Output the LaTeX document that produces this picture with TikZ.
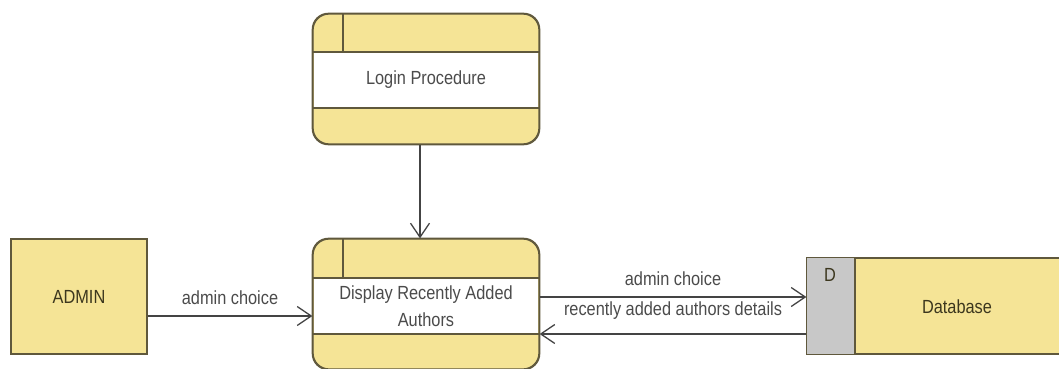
\documentclass[tikz,border=0pt]{standalone}
\usepackage{fontspec}
\setmainfont[FakeStretch=0.86]{Liberation Sans}
\usetikzlibrary{arrows.meta}
\definecolor{dfdyellow}{RGB}{245,228,150}
\definecolor{dfdborder}{RGB}{95,88,60}
\definecolor{dfdgray}{RGB}{200,200,200}
\definecolor{dfdtext}{RGB}{75,75,75}
\definecolor{dfdlabel}{RGB}{60,55,30}
\begin{document}
\begin{tikzpicture}[x=1pt,y=-1pt,
  every node/.style={font=\fontsize{19}{27}\selectfont},
  proc/.style={draw=dfdborder, line width=1.3pt, fill=dfdyellow, rounded corners=16pt,
    minimum width=226pt, minimum height=130pt, inner sep=0pt, text=dfdtext, align=center},
  entity/.style={draw=dfdborder, line width=1.3pt, fill=dfdyellow, minimum width=136pt,
    minimum height=115pt, inner sep=0pt, text=dfdlabel},
  storebox/.style={draw=dfdborder, line width=1.3pt, fill=dfdyellow, minimum width=260pt,
    minimum height=96pt, inner sep=0pt},
  band/.style={draw=dfdborder, line width=1.3pt},
  flow/.style={draw=dfdtext!90!black, line width=1.3pt, -{Straight Barb[length=14pt,width=19pt,line width=1.3pt]}},
  flowlabel/.style={text=dfdtext, inner sep=0pt}]
\useasboundingbox (0,0) rectangle (1059,369);
\clip (0,0) rectangle (1059,369);

% Login Procedure process
\node[proc] (login) at (426,79) {};
\fill[white] (313.7,52) rectangle (538.3,108);
\draw[band] (313,52) -- (539,52) (313,108) -- (539,108) (343,14) -- (343,52);
\draw[dfdborder, line width=1.3pt, rounded corners=16pt] (login.north west) rectangle (login.south east);
\node[text=dfdtext] (logintext) at (426,80) {Login Procedure};

% Display Recently Added Authors process
\node[proc] (display) at (426,304) {};
\fill[white] (313.7,278) rectangle (538.3,334);
\draw[band] (313,278) -- (539,278) (313,334) -- (539,334) (343,239) -- (343,278);
\draw[dfdborder, line width=1.3pt, rounded corners=16pt] (display.north west) rectangle (display.south east);
\node[text=dfdtext, align=center] (disptext) at (426,306) {Display Recently Added\\Authors};

% ADMIN entity
\node[entity] (admin) at (79,296.5) {ADMIN};

% Database store
\node[storebox] (store) at (937,306) {};
\fill[dfdgray] (store.north west) rectangle (855,354);
\draw[band] (855,258) -- (855,354);
\draw[dfdborder, line width=1.3pt] (store.north west) rectangle (store.south east);
\node[text=dfdlabel] (dtag) at (830,275) {D};
\node[text=dfdlabel] (dbtext) at (957,307) {Database};

% flows
\draw[flow] ([xshift=-6pt]login.south) -- ([xshift=-6pt]display.north);
\draw[flow] ([yshift=-19.5pt]admin.east) -- ([yshift=-19.5pt]admin.east -| display.west)
  node[midway, above=11pt, flowlabel] {admin choice};
\draw[flow] ([yshift=9pt]store.west -| display.east) -- ([yshift=9pt]store.west)
  node[midway, above=11pt, flowlabel] {admin choice};
\draw[flow] ([yshift=-28pt]store.west) -- ([yshift=-28pt]store.west -| display.east)
  node[midway, above=14pt, flowlabel] {recently added authors details};
\end{tikzpicture}
\end{document}
